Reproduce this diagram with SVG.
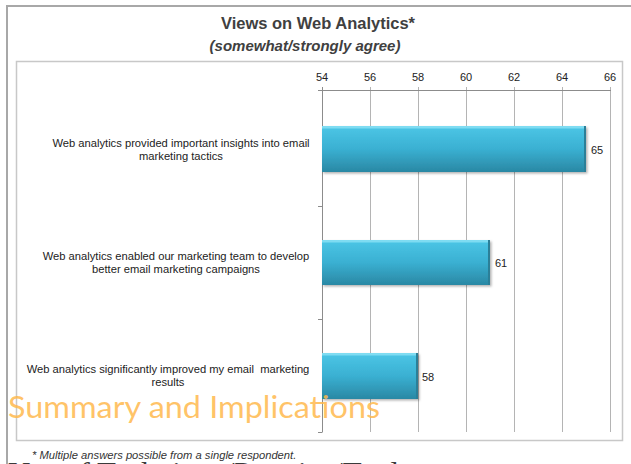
<svg xmlns="http://www.w3.org/2000/svg" width="631" height="464" viewBox="0 0 631 464">
<style>
.t{font-family:"Liberation Sans",Arial,sans-serif;fill:#222}
.tick{font-size:11px;text-anchor:middle}
.cat{font-size:11.2px;text-anchor:middle}
.val{font-size:11px}
.grid{stroke:#b4b4b4;stroke-width:1;fill:none}
.axis{stroke:#8c8c8c;stroke-width:1;fill:none}
</style>
<defs>
<linearGradient id="barg" x1="0" y1="0" x2="0" y2="1">
<stop offset="0" stop-color="#4cc6e6"/>
<stop offset="0.5" stop-color="#3ab0d2"/>
<stop offset="1" stop-color="#2a88a4"/>
</linearGradient>
<filter id="sh" x="-5%" y="-10%" width="115%" height="130%">
<feDropShadow dx="1.5" dy="1.5" stdDeviation="1" flood-color="#000" flood-opacity="0.3"/>
</filter>
</defs>
<rect width="631" height="464" fill="#fff"/>
<!-- outer frame -->
<path d="M7 464V6H631" stroke="#a8a8a8" stroke-width="2" fill="none"/>
<!-- title -->
<text class="t" x="318" y="29" font-size="16.5" font-weight="bold" text-anchor="middle" style="fill:#404040">Views on Web Analytics*</text>
<text class="t" x="305" y="51" font-size="15" font-weight="bold" font-style="italic" text-anchor="middle" style="fill:#404040">(somewhat/strongly agree)</text>
<!-- plot box -->
<rect x="16.5" y="61.5" width="606" height="379" fill="none" stroke="#c8c8c8" stroke-width="1.5"/>
<g id="grid">
<path class="grid" d="M370.5 87V432M418.5 87V432M466.5 87V432M514.5 87V432M562.5 87V432M610.5 87V432"/>
<path class="axis" d="M322.5 87V432.5M322 90.5H611M318 206.5H322M318 319.5H322M318 432.5H322M318 90.5H322"/>
</g>
<g id="ticks">
<text class="t tick" x="322" y="81">54</text>
<text class="t tick" x="370" y="81">56</text>
<text class="t tick" x="418" y="81">58</text>
<text class="t tick" x="466" y="81">60</text>
<text class="t tick" x="514" y="81">62</text>
<text class="t tick" x="562" y="81">64</text>
<text class="t tick" x="610" y="81">66</text>
</g>
<g id="bar1">
<rect x="322" y="126" width="264" height="46" fill="url(#barg)" filter="url(#sh)"/>
<rect x="322" y="126" width="264" height="2.5" fill="#7fdcf2"/>
<rect x="584" y="126" width="2" height="46" fill="#2b7f98"/>
<text class="t val" x="591" y="154">65</text>
<text class="t cat" x="181" y="147">Web analytics provided important insights into email</text>
<text class="t cat" x="181" y="160">marketing tactics</text>
</g>
<g id="bar2">
<rect x="322" y="240" width="168" height="45" fill="url(#barg)" filter="url(#sh)"/>
<rect x="322" y="240" width="168" height="2.5" fill="#7fdcf2"/>
<rect x="488" y="240" width="2" height="45" fill="#2b7f98"/>
<text class="t val" x="495" y="267">61</text>
<text class="t cat" x="176" y="260">Web analytics enabled our marketing team to develop</text>
<text class="t cat" x="176" y="273">better email marketing campaigns</text>
</g>
<g id="bar3">
<rect x="322" y="353" width="96" height="46" fill="url(#barg)" filter="url(#sh)"/>
<rect x="322" y="353" width="96" height="2.5" fill="#7fdcf2"/>
<rect x="416" y="353" width="2" height="46" fill="#2b7f98"/>
<text class="t val" x="422" y="381">58</text>
<text class="t cat" x="168" y="373" xml:space="preserve">Web analytics significantly improved my email  marketing</text>
<text class="t cat" x="168" y="386">results</text>
</g>
<text x="8" y="418" font-family="Lato,'Open Sans',sans-serif" font-size="31" fill="#ffb94d" fill-opacity="0.85" textLength="372" lengthAdjust="spacingAndGlyphs">Summary and Implications</text>
<text class="t" x="32" y="459" font-size="11.2" font-style="italic" style="fill:#333">* Multiple answers possible from a single respondent.</text>
<text x="8" y="484" font-family="'Liberation Serif','Times New Roman',serif" font-size="31" fill="#3a3a3a">Use of Technique/Practice/Tool</text>
</svg>
